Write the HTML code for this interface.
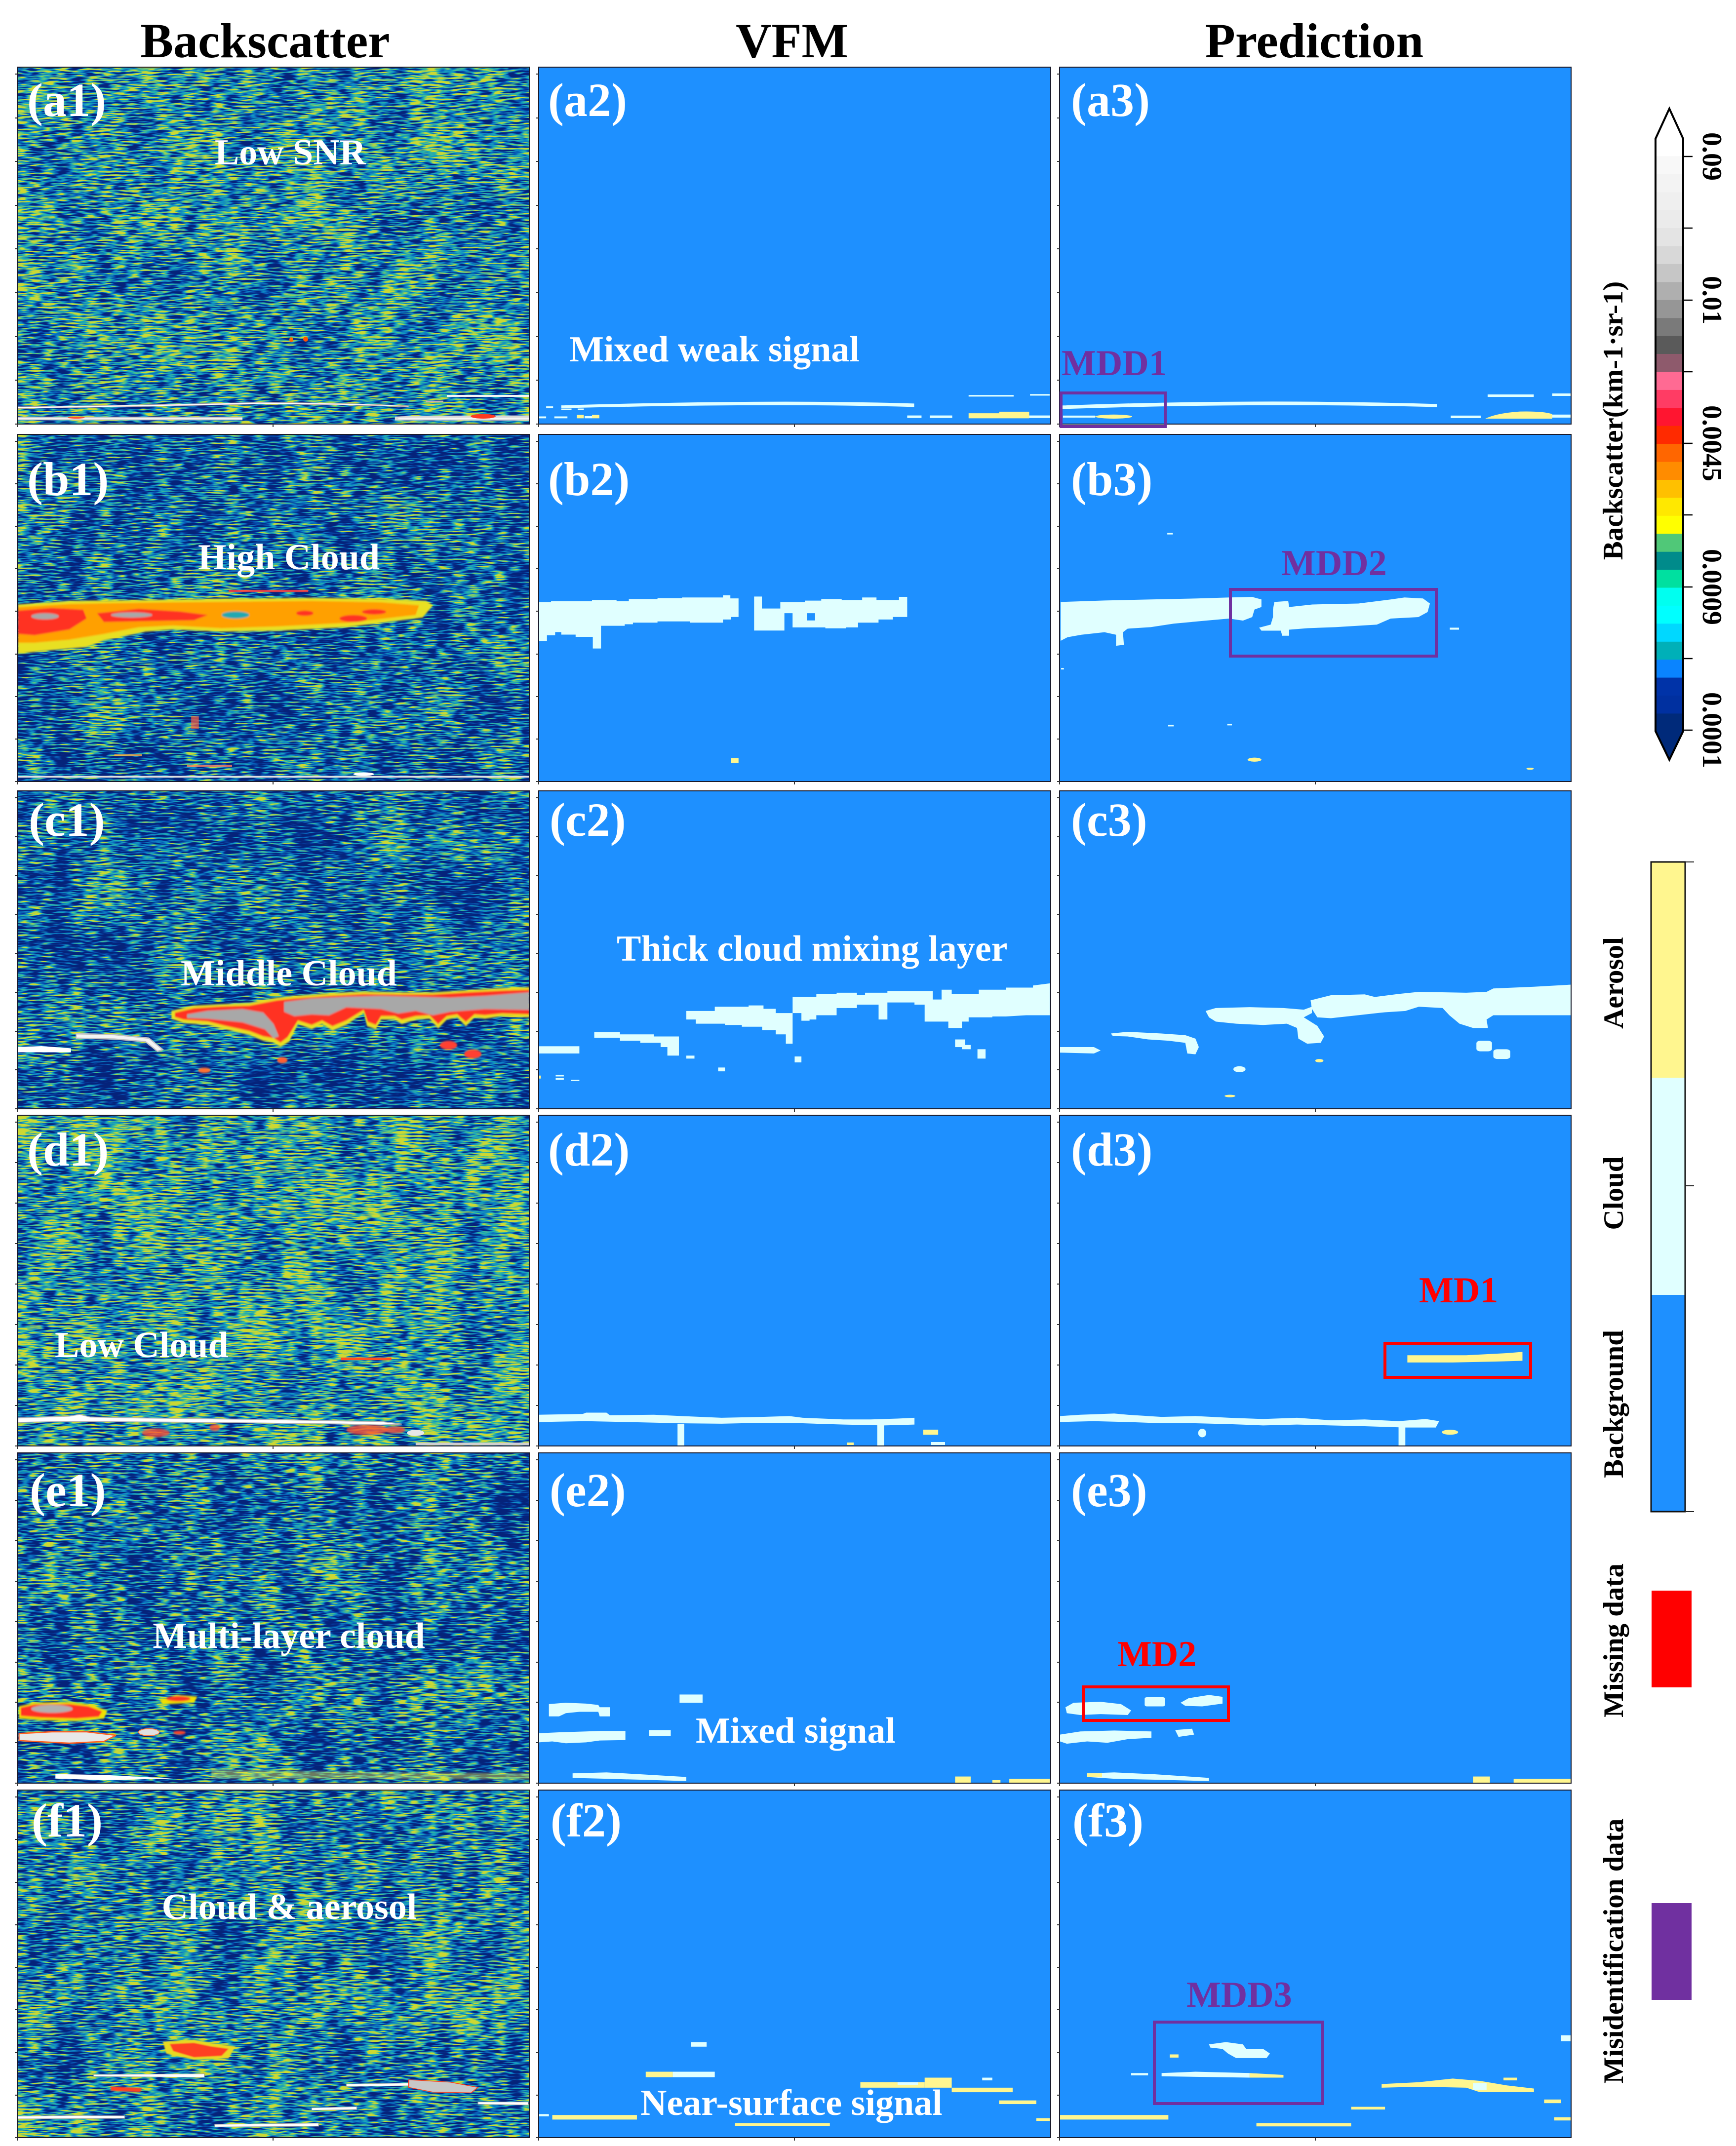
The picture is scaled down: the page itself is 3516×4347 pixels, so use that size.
<!DOCTYPE html>
<html><head><meta charset="utf-8"><style>
html,body{margin:0;padding:0;background:#fff}
svg{display:block}
.t{font-family:"Liberation Serif","Times New Roman",serif;font-weight:bold}
.c{fill:#e0ffff}
.y{fill:#fff68f}
</style></head><body>
<svg xmlns="http://www.w3.org/2000/svg" width="3516" height="4347" viewBox="0 0 3516 4347">
<defs>
<clipPath id="k11"><rect x="35" y="136" width="1037" height="723"/></clipPath>
<clipPath id="k21"><rect x="35" y="880" width="1037" height="703"/></clipPath>
<clipPath id="k31"><rect x="35" y="1602" width="1037" height="644"/></clipPath>
<clipPath id="k41"><rect x="35" y="2259" width="1037" height="670"/></clipPath>
<clipPath id="k51"><rect x="35" y="2943" width="1037" height="669"/></clipPath>
<clipPath id="k61"><rect x="35" y="3626" width="1037" height="704"/></clipPath>
<clipPath id="k12"><rect x="1091" y="136" width="1037" height="723"/></clipPath>
<clipPath id="k22"><rect x="1091" y="880" width="1037" height="703"/></clipPath>
<clipPath id="k32"><rect x="1091" y="1602" width="1037" height="644"/></clipPath>
<clipPath id="k42"><rect x="1091" y="2259" width="1037" height="670"/></clipPath>
<clipPath id="k52"><rect x="1091" y="2943" width="1037" height="669"/></clipPath>
<clipPath id="k62"><rect x="1091" y="3626" width="1037" height="704"/></clipPath>
<clipPath id="k13"><rect x="2146" y="136" width="1036" height="723"/></clipPath>
<clipPath id="k23"><rect x="2146" y="880" width="1036" height="703"/></clipPath>
<clipPath id="k33"><rect x="2146" y="1602" width="1036" height="644"/></clipPath>
<clipPath id="k43"><rect x="2146" y="2259" width="1036" height="670"/></clipPath>
<clipPath id="k53"><rect x="2146" y="2943" width="1036" height="669"/></clipPath>
<clipPath id="k63"><rect x="2146" y="3626" width="1036" height="704"/></clipPath>

<filter id="nA" filterUnits="userSpaceOnUse" x="35" y="136" width="1037" height="723" color-interpolation-filters="sRGB">
<feTurbulence type="fractalNoise" baseFrequency="0.035 0.28" numOctaves="2" seed="2" result="t1"/>
<feColorMatrix in="t1" type="matrix" values="1 0 0 0 0 1 0 0 0 0 1 0 0 0 0 0 0 0 0 1" result="g1"/>
<feTurbulence type="fractalNoise" baseFrequency="0.012 0.008" numOctaves="2" seed="7" result="t2"/>
<feColorMatrix in="t2" type="matrix" values="1 0 0 0 0 1 0 0 0 0 1 0 0 0 0 0 0 0 0 1" result="g2"/>
<feComposite in="g1" in2="g2" operator="arithmetic" k1="0" k2="1" k3="0.35" k4="-0.175" result="m"/>
<feComponentTransfer in="m" result="s"><feFuncR type="linear" slope="3" intercept="-0.98"/><feFuncG type="linear" slope="3" intercept="-0.98"/><feFuncB type="linear" slope="3" intercept="-0.98"/></feComponentTransfer>
<feComponentTransfer in="s"><feFuncR type="table" tableValues="0.02 0.02 0.03 0.06 0.12 0.35 0.8"/><feFuncG type="table" tableValues="0.14 0.20 0.36 0.55 0.68 0.78 0.85"/><feFuncB type="table" tableValues="0.48 0.58 0.72 0.78 0.70 0.50 0.2"/></feComponentTransfer>
</filter>
<filter id="nB" filterUnits="userSpaceOnUse" x="35" y="880" width="1037" height="703" color-interpolation-filters="sRGB">
<feTurbulence type="fractalNoise" baseFrequency="0.035 0.28" numOctaves="2" seed="11" result="t1"/>
<feColorMatrix in="t1" type="matrix" values="1 0 0 0 0 1 0 0 0 0 1 0 0 0 0 0 0 0 0 1" result="g1"/>
<feTurbulence type="fractalNoise" baseFrequency="0.012 0.008" numOctaves="2" seed="13" result="t2"/>
<feColorMatrix in="t2" type="matrix" values="1 0 0 0 0 1 0 0 0 0 1 0 0 0 0 0 0 0 0 1" result="g2"/>
<feComposite in="g1" in2="g2" operator="arithmetic" k1="0" k2="1" k3="0.35" k4="-0.175" result="m"/>
<feComponentTransfer in="m" result="s"><feFuncR type="linear" slope="3" intercept="-1.15"/><feFuncG type="linear" slope="3" intercept="-1.15"/><feFuncB type="linear" slope="3" intercept="-1.15"/></feComponentTransfer>
<feComponentTransfer in="s"><feFuncR type="table" tableValues="0.02 0.02 0.03 0.06 0.12 0.35 0.8"/><feFuncG type="table" tableValues="0.14 0.20 0.36 0.55 0.68 0.78 0.85"/><feFuncB type="table" tableValues="0.48 0.58 0.72 0.78 0.70 0.50 0.2"/></feComponentTransfer>
</filter>
<filter id="nC" filterUnits="userSpaceOnUse" x="35" y="1602" width="1037" height="644" color-interpolation-filters="sRGB">
<feTurbulence type="fractalNoise" baseFrequency="0.035 0.28" numOctaves="2" seed="21" result="t1"/>
<feColorMatrix in="t1" type="matrix" values="1 0 0 0 0 1 0 0 0 0 1 0 0 0 0 0 0 0 0 1" result="g1"/>
<feTurbulence type="fractalNoise" baseFrequency="0.012 0.008" numOctaves="2" seed="23" result="t2"/>
<feColorMatrix in="t2" type="matrix" values="1 0 0 0 0 1 0 0 0 0 1 0 0 0 0 0 0 0 0 1" result="g2"/>
<feComposite in="g1" in2="g2" operator="arithmetic" k1="0" k2="1" k3="0.35" k4="-0.175" result="m"/>
<feComponentTransfer in="m" result="s"><feFuncR type="linear" slope="3" intercept="-1.15"/><feFuncG type="linear" slope="3" intercept="-1.15"/><feFuncB type="linear" slope="3" intercept="-1.15"/></feComponentTransfer>
<feComponentTransfer in="s"><feFuncR type="table" tableValues="0.02 0.02 0.03 0.06 0.12 0.35 0.8"/><feFuncG type="table" tableValues="0.14 0.20 0.36 0.55 0.68 0.78 0.85"/><feFuncB type="table" tableValues="0.48 0.58 0.72 0.78 0.70 0.50 0.2"/></feComponentTransfer>
</filter>
<filter id="nD" filterUnits="userSpaceOnUse" x="35" y="2259" width="1037" height="670" color-interpolation-filters="sRGB">
<feTurbulence type="fractalNoise" baseFrequency="0.035 0.28" numOctaves="2" seed="31" result="t1"/>
<feColorMatrix in="t1" type="matrix" values="1 0 0 0 0 1 0 0 0 0 1 0 0 0 0 0 0 0 0 1" result="g1"/>
<feTurbulence type="fractalNoise" baseFrequency="0.012 0.008" numOctaves="2" seed="33" result="t2"/>
<feColorMatrix in="t2" type="matrix" values="1 0 0 0 0 1 0 0 0 0 1 0 0 0 0 0 0 0 0 1" result="g2"/>
<feComposite in="g1" in2="g2" operator="arithmetic" k1="0" k2="1" k3="0.35" k4="-0.175" result="m"/>
<feComponentTransfer in="m" result="s"><feFuncR type="linear" slope="3" intercept="-0.92"/><feFuncG type="linear" slope="3" intercept="-0.92"/><feFuncB type="linear" slope="3" intercept="-0.92"/></feComponentTransfer>
<feComponentTransfer in="s"><feFuncR type="table" tableValues="0.02 0.02 0.03 0.06 0.12 0.35 0.8"/><feFuncG type="table" tableValues="0.14 0.20 0.36 0.55 0.68 0.78 0.85"/><feFuncB type="table" tableValues="0.48 0.58 0.72 0.78 0.70 0.50 0.2"/></feComponentTransfer>
</filter>
<filter id="nE" filterUnits="userSpaceOnUse" x="35" y="2943" width="1037" height="669" color-interpolation-filters="sRGB">
<feTurbulence type="fractalNoise" baseFrequency="0.035 0.28" numOctaves="2" seed="41" result="t1"/>
<feColorMatrix in="t1" type="matrix" values="1 0 0 0 0 1 0 0 0 0 1 0 0 0 0 0 0 0 0 1" result="g1"/>
<feTurbulence type="fractalNoise" baseFrequency="0.012 0.008" numOctaves="2" seed="43" result="t2"/>
<feColorMatrix in="t2" type="matrix" values="1 0 0 0 0 1 0 0 0 0 1 0 0 0 0 0 0 0 0 1" result="g2"/>
<feComposite in="g1" in2="g2" operator="arithmetic" k1="0" k2="1" k3="0.35" k4="-0.175" result="m"/>
<feComponentTransfer in="m" result="s"><feFuncR type="linear" slope="3" intercept="-1.12"/><feFuncG type="linear" slope="3" intercept="-1.12"/><feFuncB type="linear" slope="3" intercept="-1.12"/></feComponentTransfer>
<feComponentTransfer in="s"><feFuncR type="table" tableValues="0.02 0.02 0.03 0.06 0.12 0.35 0.8"/><feFuncG type="table" tableValues="0.14 0.20 0.36 0.55 0.68 0.78 0.85"/><feFuncB type="table" tableValues="0.48 0.58 0.72 0.78 0.70 0.50 0.2"/></feComponentTransfer>
</filter>
<filter id="nF" filterUnits="userSpaceOnUse" x="35" y="3626" width="1037" height="704" color-interpolation-filters="sRGB">
<feTurbulence type="fractalNoise" baseFrequency="0.035 0.28" numOctaves="2" seed="51" result="t1"/>
<feColorMatrix in="t1" type="matrix" values="1 0 0 0 0 1 0 0 0 0 1 0 0 0 0 0 0 0 0 1" result="g1"/>
<feTurbulence type="fractalNoise" baseFrequency="0.012 0.008" numOctaves="2" seed="53" result="t2"/>
<feColorMatrix in="t2" type="matrix" values="1 0 0 0 0 1 0 0 0 0 1 0 0 0 0 0 0 0 0 1" result="g2"/>
<feComposite in="g1" in2="g2" operator="arithmetic" k1="0" k2="1" k3="0.35" k4="-0.175" result="m"/>
<feComponentTransfer in="m" result="s"><feFuncR type="linear" slope="3" intercept="-1.02"/><feFuncG type="linear" slope="3" intercept="-1.02"/><feFuncB type="linear" slope="3" intercept="-1.02"/></feComponentTransfer>
<feComponentTransfer in="s"><feFuncR type="table" tableValues="0.02 0.02 0.03 0.06 0.12 0.35 0.8"/><feFuncG type="table" tableValues="0.14 0.20 0.36 0.55 0.68 0.78 0.85"/><feFuncB type="table" tableValues="0.48 0.58 0.72 0.78 0.70 0.50 0.2"/></feComponentTransfer>
</filter>
<filter id="bl" x="-20%" y="-50%" width="140%" height="200%"><feGaussianBlur stdDeviation="2"/></filter>
<clipPath id="kcb"><polygon points="3353,281 3381,220 3409,281 3409,1481 3381,1539 3353,1481"/></clipPath>
</defs>

<!-- Column titles -->
<text class="t" x="537" y="116" font-size="100" text-anchor="middle" fill="#000">Backscatter</text>
<text class="t" x="1604" y="116" font-size="100" text-anchor="middle" fill="#000">VFM</text>
<text class="t" x="2662" y="116" font-size="100" text-anchor="middle" fill="#000">Prediction</text>

<!-- ================= BACKSCATTER COLUMN ================= -->
<g clip-path="url(#k11)">
<rect x="35" y="136" width="1037" height="723" fill="#1060b0" filter="url(#nA)"/>
<g transform="translate(0,700) scale(0.7015,0.3333)">
<path d="M50,372 Q400,362 750,345 Q1000,348 1180,366 L1180,372 Q1000,358 750,355 Q400,372 50,382 Z" fill="#fff" stroke="#b8a0a0" stroke-width="3"/>
<rect x="1290" y="300" width="238" height="12" fill="#f4f4f4"/>
<rect x="1230" y="335" width="50" height="10" fill="#c8b0b0"/>
<rect x="50" y="432" width="650" height="22" fill="#c8c8c8"/>
<rect x="50" y="440" width="650" height="8" fill="#f2f2f2"/>
<path d="M1140,432 Q1200,424 1528,425 L1528,456 L1140,455 Z" fill="#d8d8d8"/>
<rect x="1150" y="438" width="378" height="10" fill="#f6f6f6"/>
<ellipse cx="1395" cy="430" rx="36" ry="14" fill="#ff3a20"/>
<ellipse cx="220" cy="438" rx="25" ry="6" fill="#ff5030"/>
</g>
<ellipse cx="590" cy="688" rx="4" ry="5" fill="#ff7000"/>
<ellipse cx="619" cy="687" rx="5" ry="5" fill="#ff5000"/>
</g>

<g clip-path="url(#k21)">
<rect x="35" y="880" width="1037" height="703" fill="#0c4aa0" filter="url(#nB)"/>
<g transform="translate(0,860) scale(0.7015,0.8929)">
<g filter="url(#bl)">
<polygon fill="#e8e020" points="52,408 200,400 400,398 640,395 900,393 1100,395 1230,400 1250,410 1220,438 1150,445 1000,460 800,468 640,470 500,465 420,470 300,490 250,505 150,512 52,520"/>
<polygon fill="#ffa000" points="52,414 200,407 400,404 640,402 900,400 1100,403 1210,410 1200,432 1000,450 800,458 640,462 500,456 400,460 300,475 200,488 100,495 52,495"/>
<polygon fill="#ff3020" points="52,422 150,416 240,420 250,440 200,465 100,478 52,475"/>
<polygon fill="#ff3020" points="280,428 400,418 520,424 600,432 560,444 420,446 300,448"/>
<ellipse cx="1020" cy="440" rx="40" ry="8" fill="#ff3020"/>
<ellipse cx="1080" cy="425" rx="35" ry="6" fill="#ff3020"/>
<ellipse cx="880" cy="428" rx="25" ry="6" fill="#ff3020"/>
<ellipse cx="130" cy="435" rx="40" ry="7" fill="#a8a8a8"/>
<ellipse cx="380" cy="432" rx="60" ry="6" fill="#a8a8a8"/>
<ellipse cx="680" cy="432" rx="40" ry="8" fill="#20a8b0"/>
</g>
<rect x="660" y="375" width="230" height="5" fill="#ff4040" opacity="0.85"/>
<rect x="52" y="797" width="1478" height="4" fill="#e0e0e0"/>
<ellipse cx="1050" cy="793" rx="30" ry="4" fill="#fff"/>
<rect x="552" y="662" width="22" height="28" fill="#ff6040" opacity="0.7"/>
<rect x="540" y="772" width="130" height="5" fill="#ff8060" opacity="0.8"/>
<rect x="330" y="748" width="80" height="4" fill="#ffb040" opacity="0.8"/>
</g>
</g>

<g clip-path="url(#k31)">
<rect x="35" y="1602" width="1037" height="644" fill="#0c4aa0" filter="url(#nC)"/>
<g transform="translate(0,860) scale(0.7015,0.8929)">
<g filter="url(#bl)">
<polygon fill="#e8e020" points="495,1330 560,1318 640,1315 720,1312 800,1300 850,1296 950,1290 1050,1286 1150,1288 1250,1288 1350,1283 1450,1278 1528,1276 1528,1345 1450,1342 1400,1348 1370,1345 1345,1365 1320,1345 1290,1350 1265,1370 1240,1348 1200,1350 1160,1360 1140,1350 1100,1350 1085,1372 1060,1365 1050,1335 1000,1362 960,1375 930,1360 900,1372 860,1360 835,1400 810,1412 790,1402 760,1398 720,1385 650,1372 600,1362 530,1358 495,1348"/>
<polygon fill="#ff3020" points="505,1334 560,1324 640,1320 720,1318 800,1306 850,1302 950,1296 1050,1292 1150,1293 1250,1293 1350,1288 1450,1284 1528,1282 1528,1338 1450,1336 1400,1340 1370,1338 1345,1355 1320,1338 1290,1342 1265,1360 1240,1340 1200,1342 1160,1350 1140,1342 1100,1342 1085,1362 1062,1355 1050,1328 1000,1352 960,1365 930,1352 900,1362 860,1352 830,1390 810,1402 790,1392 760,1388 720,1376 650,1364 600,1354 530,1350 505,1344"/>
<polygon fill="#a8a8a8" points="540,1338 600,1330 700,1326 760,1334 790,1360 805,1388 790,1392 765,1372 700,1356 600,1348 540,1346"/>
<polygon fill="#a8a8a8" points="820,1310 900,1302 1000,1298 1100,1296 1200,1298 1300,1300 1400,1296 1528,1288 1528,1328 1400,1326 1300,1332 1250,1340 1200,1330 1150,1336 1100,1326 1000,1322 950,1340 900,1338 850,1342 820,1332"/>
<ellipse cx="1295" cy="1408" rx="25" ry="10" fill="#ff4030"/>
<ellipse cx="1365" cy="1428" rx="25" ry="10" fill="#ff4030"/>
<ellipse cx="815" cy="1442" rx="15" ry="7" fill="#ff6030"/>
<ellipse cx="590" cy="1465" rx="18" ry="6" fill="#ff7030"/>
</g>
<polygon fill="#fff" points="52,1412 120,1410 205,1415 205,1424 120,1424 52,1424"/>
<polygon fill="#f4f4f4" stroke="#c0c0c0" stroke-width="3" points="220,1382 330,1384 430,1392 470,1418 455,1422 420,1400 330,1394 220,1392"/>
</g>
</g>

<g clip-path="url(#k41)">
<rect x="35" y="2259" width="1037" height="670" fill="#1868a8" filter="url(#nD)"/>
<g transform="translate(0,2240) scale(0.7015,0.8929)">
<g filter="url(#bl)">
<ellipse cx="450" cy="742" rx="40" ry="10" fill="#ff5030" opacity="0.8"/>
<ellipse cx="620" cy="730" rx="15" ry="8" fill="#ff5030" opacity="0.8"/>
<ellipse cx="1060" cy="735" rx="60" ry="12" fill="#ff5030" opacity="0.8"/>
<ellipse cx="1140" cy="735" rx="30" ry="8" fill="#ff5030" opacity="0.8"/>
</g>
<ellipse cx="1200" cy="742" rx="25" ry="7" fill="#e8e8e8"/>
<polygon fill="#fff" stroke="#b0b0b0" stroke-width="2" points="52,708 200,704 230,700 260,706 400,708 600,710 800,712 1000,715 1100,716 1160,722 1100,724 1000,722 800,720 600,718 400,717 200,716 52,718"/>
<rect x="985" y="571" width="145" height="6" fill="#ff5020"/>
<rect x="1200" y="764" width="330" height="6" fill="#d0d0d0"/>
</g>
</g>

<g clip-path="url(#k51)">
<rect x="35" y="2943" width="1037" height="669" fill="#0c4aa0" filter="url(#nE)"/>
<g transform="translate(0,2240) scale(0.7015,0.8929)">
<g filter="url(#bl)">
<polygon fill="#f0e000" points="55,1362 100,1354 200,1352 260,1358 310,1372 300,1390 220,1396 120,1394 55,1390"/>
<polygon fill="#ff3020" points="60,1365 100,1358 200,1357 255,1362 295,1374 285,1386 220,1390 120,1388 60,1384"/>
<ellipse cx="150" cy="1368" rx="60" ry="9" fill="#b0b0b0"/>
<polygon fill="#f0e000" points="460,1348 510,1336 570,1340 560,1354 470,1358"/>
<ellipse cx="515" cy="1345" rx="35" ry="6" fill="#ff3020"/>
<ellipse cx="518" cy="1422" rx="18" ry="4" fill="#ff4020"/>
<polygon fill="#e8e840" opacity="0.45" points="610,1506 1100,1512 1530,1514 1530,1528 610,1526"/>
</g>
<polygon fill="#e8e8e8" stroke="#ff6020" stroke-width="3" points="55,1424 150,1420 250,1420 335,1428 300,1442 200,1446 100,1442 55,1440"/>
<ellipse cx="430" cy="1421" rx="30" ry="8" fill="#e0e0e0" stroke="#ff8040" stroke-width="2"/>
<polygon fill="#fff" points="160,1516 300,1518 500,1526 300,1530 160,1526"/>
</g>
</g>

<g clip-path="url(#k61)">
<rect x="35" y="3626" width="1037" height="704" fill="#1060b0" filter="url(#nF)"/>
<g transform="translate(0,3590) scale(0.7015,0.4828)">
<g filter="url(#bl)">
<polygon fill="#e8d820" points="470,1130 560,1122 620,1138 680,1150 660,1200 560,1206 480,1180"/>
<polygon fill="#ff4020" points="490,1140 560,1135 610,1150 660,1160 640,1190 560,1196 500,1170"/>
<polygon fill="#ff4020" points="320,1318 410,1325 405,1342 320,1336"/>
</g>
<polygon fill="#fff" stroke="#a0a0a0" stroke-width="2" points="270,1268 590,1265 590,1280 270,1276"/>
<polygon fill="#fff" stroke="#a0a0a0" stroke-width="2" points="1000,1308 1200,1303 1200,1315 1000,1318"/>
<polygon fill="#c8c8c8" stroke="#ff4020" stroke-width="3" points="1180,1290 1300,1300 1380,1322 1360,1345 1250,1342 1180,1322"/>
<polygon fill="#fff" stroke="#a0a0a0" stroke-width="2" points="900,1408 1030,1403 1030,1415 900,1418"/>
<polygon fill="#fff" stroke="#a0a0a0" stroke-width="2" points="50,1443 200,1440 360,1441 360,1452 50,1454"/>
<polygon fill="#fff" stroke="#a0a0a0" stroke-width="2" points="620,1477 920,1472 920,1485 620,1488"/>
<polygon fill="#fff" stroke="#a0a0a0" stroke-width="2" points="1380,1383 1525,1383 1525,1396 1380,1393"/>
</g>
</g>

<!-- ================= VFM / PREDICTION backgrounds ================= -->
<rect x="1091" y="136" width="1037" height="723" fill="#1e90ff"/>
<rect x="1091" y="880" width="1037" height="703" fill="#1e90ff"/>
<rect x="1091" y="1602" width="1037" height="644" fill="#1e90ff"/>
<rect x="1091" y="2259" width="1037" height="670" fill="#1e90ff"/>
<rect x="1091" y="2943" width="1037" height="669" fill="#1e90ff"/>
<rect x="1091" y="3626" width="1037" height="704" fill="#1e90ff"/>
<rect x="2146" y="136" width="1036" height="723" fill="#1e90ff"/>
<rect x="2146" y="880" width="1036" height="703" fill="#1e90ff"/>
<rect x="2146" y="1602" width="1036" height="644" fill="#1e90ff"/>
<rect x="2146" y="2259" width="1036" height="670" fill="#1e90ff"/>
<rect x="2146" y="2943" width="1036" height="669" fill="#1e90ff"/>
<rect x="2146" y="3626" width="1036" height="704" fill="#1e90ff"/>

<!-- a2 -->
<g clip-path="url(#k12)"><g transform="translate(1000,700) scale(0.8291,0.6378)">
<path class="c" d="M165,190 Q680,170 1027,184 L1027,195 Q680,182 165,199 Z"/>
<rect class="c" x="128" y="193" width="17" height="6"/>
<rect class="c" x="165" y="200" width="25" height="5"/>
<rect class="c" x="205" y="200" width="15" height="5"/>
<rect class="c" x="108" y="225" width="20" height="6"/>
<rect class="c" x="148" y="225" width="32" height="6"/>
<rect class="y" x="203" y="220" width="17" height="11"/>
<rect class="c" x="222" y="224" width="18" height="7"/>
<rect class="y" x="240" y="220" width="18" height="11"/>
<rect class="c" x="1010" y="222" width="35" height="8"/>
<rect class="c" x="1065" y="222" width="55" height="8"/>
<rect class="y" x="1160" y="215" width="75" height="16"/>
<rect class="y" x="1235" y="210" width="73" height="21"/>
<rect class="c" x="1308" y="222" width="52" height="8"/>
<rect class="c" x="1160" y="157" width="110" height="5"/>
<rect class="c" x="1310" y="154" width="48" height="5"/>
</g></g>

<!-- b2 -->
<g clip-path="url(#k22)"><g transform="translate(1000,700) scale(0.8291,0.6378)">
<polygon class="c" points="110,815 140,815 140,812 240,812 240,808 300,808 300,812 330,812 330,805 400,805 400,802 460,802 460,800 560,800 560,793 578,793 578,803 598,803 598,862 580,862 580,870 560,870 560,880 480,880 480,876 400,876 400,880 340,880 340,885 320,885 320,890 262,890 262,962 242,962 242,925 200,925 200,918 165,918 165,910 150,910 150,920 130,920 130,938 110,938"/>
<polygon class="c" points="636,797 655,797 655,835 700,835 700,815 760,815 760,810 800,810 800,805 850,805 850,808 900,808 900,800 935,800 935,808 990,808 990,798 1010,798 1010,862 975,862 975,870 940,870 940,880 890,880 890,895 860,895 860,898 810,898 810,895 730,895 730,850 710,850 710,905 636,905"/>
<rect x="765" y="850" width="20" height="23" fill="#1e90ff"/>
<rect class="y" x="580" y="1310" width="18" height="16"/>
</g></g>

<!-- a3 -->
<g clip-path="url(#k13)"><g transform="translate(2050,0) scale(0.9349,1.0204)">
<path class="c" d="M108,805 Q520,791 920,802 L920,808 Q520,799 108,812 Z"/>
<rect class="c" x="110" y="825" width="70" height="4"/>
<ellipse class="y" cx="220" cy="827" rx="40" ry="4"/>
<rect class="c" x="1030" y="783" width="100" height="5"/>
<rect class="c" x="1170" y="781" width="41" height="5"/>
<rect class="c" x="950" y="825" width="65" height="5"/>
<path class="y" d="M1025,831 Q1050,820 1100,817 Q1150,816 1170,822 L1170,831 Z"/>
<rect class="c" x="1170" y="823" width="41" height="6"/>
</g></g>

<!-- b3 -->
<g clip-path="url(#k23)"><g transform="translate(2050,0) scale(0.9349,1.0204)">
<polygon class="c" points="105,1195 200,1192 300,1190 400,1188 470,1186 520,1185 540,1190 540,1205 525,1210 520,1225 500,1232 470,1228 420,1232 350,1238 300,1245 250,1248 240,1255 242,1280 225,1282 225,1260 200,1255 150,1260 120,1265 105,1272"/>
<polygon class="c" points="565,1210 568,1195 598,1193 600,1205 650,1200 750,1198 820,1190 850,1186 890,1188 905,1198 900,1215 880,1225 820,1228 790,1240 700,1245 640,1247 600,1250 600,1262 585,1262 582,1252 540,1252 535,1246 560,1240 565,1225"/>
<rect class="c" x="948" y="1246" width="20" height="4"/>
<ellipse class="y" cx="525" cy="1508" rx="15" ry="4"/>
<ellipse class="y" cx="1122" cy="1526" rx="8" ry="2"/>
<rect class="c" x="336" y="1058" width="12" height="3"/>
<rect class="c" x="466" y="1437" width="10" height="3"/>
<rect class="c" x="338" y="1439" width="12" height="3"/>
<rect class="c" x="106" y="1326" width="6" height="3"/>
</g></g>

<!-- c2 -->
<g clip-path="url(#k32)"><g transform="translate(1050,1570) scale(1.3712,0.8610)">
<polygon class="c" points="248,555 290,555 290,545 340,545 340,542 362,542 362,550 380,550 380,560 405,560 405,632 395,632 395,610 380,610 380,600 360,600 360,592 330,592 330,588 305,588 305,585 262,585 262,575 248,575"/>
<polygon class="c" points="405,522 440,522 440,515 470,515 470,512 500,512 500,518 512,518 512,512 545,512 545,508 612,508 612,528 625,528 625,505 640,505 640,515 680,515 680,505 720,505 720,500 760,500 760,495 785,490 785,565 750,565 720,568 700,568 700,570 665,570 665,580 655,580 655,595 635,595 635,580 600,580 600,540 585,540 585,535 545,535 545,575 532,575 532,540 500,540 500,548 470,548 470,565 440,565 440,575 430,575 430,578 418,578 418,560 405,560"/>
<polygon class="c" points="112,605 150,605 150,610 200,610 200,615 237,615 237,660 220,660 220,640 210,640 210,630 180,630 180,625 150,625 150,618 112,618"/>
<rect class="c" x="30" y="638" width="60" height="17"/>
<rect class="c" x="248" y="660" width="12" height="7"/>
<rect class="c" x="295" y="688" width="10" height="9"/>
<rect class="c" x="408" y="662" width="10" height="14"/>
<rect class="c" x="645" y="622" width="15" height="18"/>
<rect class="c" x="655" y="635" width="13" height="10"/>
<rect class="c" x="678" y="645" width="12" height="22"/>
<rect class="c" x="55" y="705" width="12" height="4"/>
<rect class="c" x="55" y="713" width="12" height="4"/>
<rect class="c" x="78" y="717" width="12" height="3"/>
<rect class="y" x="28" y="707" width="5" height="7"/>
</g></g>

<!-- c3 -->
<g clip-path="url(#k33)"><g transform="translate(1050,1570) scale(1.3712,0.8610)">
<polygon class="c" points="1015,555 1030,548 1080,546 1130,548 1160,552 1172,545 1172,560 1160,570 1180,590 1190,615 1185,630 1165,632 1152,620 1150,595 1135,585 1100,588 1060,585 1030,580 1020,570"/>
<polygon class="c" points="1170,530 1200,518 1250,516 1265,522 1300,515 1330,510 1400,512 1430,510 1440,502 1500,498 1555,493 1555,565 1490,565 1440,565 1430,575 1432,595 1410,595 1390,585 1375,565 1365,548 1330,545 1320,550 1310,555 1280,558 1240,565 1200,572 1180,570 1172,550"/>
<polygon class="c" points="875,608 900,604 950,608 985,612 1000,620 1005,640 1000,657 988,655 985,630 960,625 930,622 900,615 878,614"/>
<polygon class="c" points="800,640 850,640 860,648 850,655 800,653"/>
<ellipse class="c" cx="1065" cy="692" rx="9" ry="7"/>
<rect class="c" x="1415" y="625" width="23" height="25" rx="6"/>
<rect class="c" x="1440" y="645" width="25" height="23" rx="6"/>
<ellipse class="y" cx="1183" cy="672" rx="6" ry="4"/>
<ellipse class="y" cx="1051" cy="755" rx="8" ry="3"/>
</g></g>

<!-- d2 -->
<g clip-path="url(#k42)"><g transform="translate(1050,1570) scale(1.3712,0.8610)">
<polygon class="c" points="30,1505 95,1503 100,1500 130,1500 135,1506 200,1505 240,1508 300,1512 360,1510 400,1508 420,1512 480,1516 520,1516 560,1514 585,1512 585,1528 540,1530 480,1528 420,1525 360,1524 300,1526 240,1525 160,1522 100,1520 30,1522"/>
<rect class="c" x="235" y="1526" width="10" height="52"/>
<rect class="c" x="530" y="1526" width="10" height="52"/>
<rect class="y" x="598" y="1540" width="22" height="12"/>
</g>
<rect class="y" x="1715" y="2922" width="14" height="5"/>
<rect class="c" x="1886" y="2921" width="28" height="6"/>
</g>

<!-- d3 -->
<g clip-path="url(#k43)"><g transform="translate(1050,1570) scale(1.3712,0.8610)">
<polygon class="c" points="800,1508 830,1505 880,1502 900,1505 950,1510 1000,1508 1050,1512 1100,1515 1150,1512 1200,1518 1250,1516 1300,1520 1340,1515 1360,1520 1355,1535 1310,1535 1250,1532 1200,1530 1150,1528 1100,1530 1050,1527 1000,1525 950,1525 900,1522 850,1520 800,1522"/>
<ellipse class="c" cx="1010" cy="1548" rx="6" ry="10"/>
<rect class="c" x="1300" y="1530" width="10" height="50"/>
<ellipse class="y" cx="1376" cy="1546" rx="12" ry="6"/>
<polygon class="y" points="1313,1365 1400,1365 1460,1360 1483,1357 1483,1378 1440,1380 1380,1382 1313,1382"/>
</g></g>

<!-- e2 -->
<g clip-path="url(#k52)"><g transform="translate(1050,2900) scale(1.3712,0.9228)">
<polygon class="c" points="45,598 70,595 100,597 118,600 120,605 135,605 135,625 120,625 118,615 90,615 70,618 60,625 45,625"/>
<rect class="c" x="238" y="577" width="34" height="18"/>
<polygon class="c" points="30,662 60,660 100,658 120,657 158,657 158,677 120,678 100,682 70,684 50,680 30,682"/>
<rect class="c" x="193" y="655" width="32" height="13"/>
<polygon class="c" points="80,750 130,748 180,752 248,758 248,767 180,764 130,762 80,760"/>
<rect class="y" x="645" y="757" width="23" height="15"/>
<rect class="y" x="725" y="762" width="60" height="10"/>
<rect class="y" x="700" y="765" width="12" height="7"/>
</g></g>

<!-- e3 -->
<g clip-path="url(#k53)"><g transform="translate(1050,2900) scale(1.3712,0.9228)">
<polygon class="c" points="808,605 820,595 860,593 890,598 905,612 900,622 860,620 830,622 810,618"/>
<rect class="c" x="925" y="583" width="30" height="20" rx="3"/>
<polygon class="c" points="978,595 990,585 1020,578 1040,582 1040,597 1010,603 985,602"/>
<polygon class="c" points="800,665 830,658 880,656 935,658 935,672 900,675 870,683 840,680 810,685 800,680"/>
<polygon class="c" points="970,655 995,652 998,665 975,670"/>
<polygon class="c" points="840,750 880,748 940,752 1020,760 1020,767 940,764 880,762 840,758"/>
<rect class="y" x="840" y="750" width="22" height="8"/>
<rect class="y" x="1410" y="757" width="25" height="15"/>
<rect class="y" x="1470" y="762" width="85" height="10"/>
</g></g>

<!-- f2 -->
<g clip-path="url(#k62)"><g transform="translate(1050,2900) scale(1.3712,0.9228)">
<rect class="c" x="255" y="1340" width="23" height="10"/>
<rect class="y" x="188" y="1405" width="40" height="12"/>
<rect class="c" x="228" y="1405" width="62" height="12"/>
<rect class="y" x="505" y="1428" width="95" height="12"/>
<rect class="c" x="560" y="1428" width="30" height="6"/>
<rect class="y" x="600" y="1418" width="40" height="22"/>
<rect class="y" x="640" y="1440" width="90" height="10"/>
<rect class="c" x="685" y="1418" width="15" height="6"/>
<rect class="y" x="710" y="1468" width="55" height="8"/>
<rect class="y" x="50" y="1500" width="125" height="10"/>
<rect class="y" x="320" y="1518" width="140" height="6"/>
<rect class="y" x="765" y="1507" width="20" height="6"/>
<rect class="c" x="30" y="1498" width="15" height="5"/>
</g></g>

<!-- f3 -->
<g clip-path="url(#k63)"><g transform="translate(1050,2900) scale(1.3712,0.9228)">
<polygon class="c" points="1020,1345 1045,1340 1070,1345 1075,1355 1100,1355 1110,1365 1105,1375 1060,1375 1048,1365 1040,1355 1022,1352"/>
<rect class="y" x="962" y="1367" width="13" height="7"/>
<polygon class="c" points="950,1408 1000,1405 1080,1408 1080,1418 950,1415"/>
<polygon class="y" points="1080,1408 1130,1412 1130,1418 1080,1418"/>
<rect class="c" x="905" y="1408" width="25" height="5"/>
<polygon class="y" points="1275,1432 1330,1428 1380,1420 1420,1425 1460,1435 1500,1442 1500,1450 1420,1450 1400,1440 1330,1438 1275,1440"/>
<rect class="c" x="1410" y="1430" width="20" height="15"/>
<rect class="y" x="1455" y="1418" width="20" height="6"/>
<rect class="y" x="1515" y="1466" width="25" height="8"/>
<rect class="c" x="1540" y="1325" width="15" height="13"/>
<rect class="y" x="800" y="1500" width="160" height="10"/>
<rect class="y" x="1090" y="1518" width="140" height="7"/>
<rect class="y" x="1230" y="1482" width="50" height="6"/>
<rect class="y" x="1530" y="1505" width="25" height="7"/>
</g></g>

<!-- Panel borders -->
<g fill="none" stroke="#1a1a2a" stroke-width="2">
<rect x="35" y="136" width="1037" height="723"/><rect x="1091" y="136" width="1037" height="723"/><rect x="2146" y="136" width="1036" height="723"/>
<rect x="35" y="880" width="1037" height="703"/><rect x="1091" y="880" width="1037" height="703"/><rect x="2146" y="880" width="1036" height="703"/>
<rect x="35" y="1602" width="1037" height="644"/><rect x="1091" y="1602" width="1037" height="644"/><rect x="2146" y="1602" width="1036" height="644"/>
<rect x="35" y="2259" width="1037" height="670"/><rect x="1091" y="2259" width="1037" height="670"/><rect x="2146" y="2259" width="1036" height="670"/>
<rect x="35" y="2943" width="1037" height="669"/><rect x="1091" y="2943" width="1037" height="669"/><rect x="2146" y="2943" width="1036" height="669"/>
<rect x="35" y="3626" width="1037" height="704"/><rect x="1091" y="3626" width="1037" height="704"/><rect x="2146" y="3626" width="1036" height="704"/>
</g>

<!-- Ticks -->
<g stroke="#333" stroke-width="2" fill="none">
<path d="M30,150h5M30,239h5M30,327h5M30,416h5M30,504h5M30,593h5M30,682h5M30,770h5M30,859h5M1086,150h5M1086,239h5M1086,327h5M1086,416h5M1086,504h5M1086,593h5M1086,682h5M1086,770h5M1086,859h5M2141,150h5M2141,239h5M2141,327h5M2141,416h5M2141,504h5M2141,593h5M2141,682h5M2141,770h5M2141,859h5"/>
<path d="M30,894h5M30,980h5M30,1066h5M30,1152h5M30,1238h5M30,1325h5M30,1411h5M30,1497h5M30,1583h5M1086,894h5M1086,980h5M1086,1066h5M1086,1152h5M1086,1238h5M1086,1325h5M1086,1411h5M1086,1497h5M1086,1583h5M2141,894h5M2141,980h5M2141,1066h5M2141,1152h5M2141,1238h5M2141,1325h5M2141,1411h5M2141,1497h5M2141,1583h5"/>
<path d="M30,1616h5M30,1695h5M30,1773h5M30,1852h5M30,1931h5M30,2010h5M30,2089h5M30,2167h5M30,2246h5M1086,1616h5M1086,1695h5M1086,1773h5M1086,1852h5M1086,1931h5M1086,2010h5M1086,2089h5M1086,2167h5M1086,2246h5M2141,1616h5M2141,1695h5M2141,1773h5M2141,1852h5M2141,1931h5M2141,2010h5M2141,2089h5M2141,2167h5M2141,2246h5"/>
<path d="M30,2273h5M30,2355h5M30,2437h5M30,2519h5M30,2601h5M30,2683h5M30,2765h5M30,2847h5M30,2929h5M1086,2273h5M1086,2355h5M1086,2437h5M1086,2519h5M1086,2601h5M1086,2683h5M1086,2765h5M1086,2847h5M1086,2929h5M2141,2273h5M2141,2355h5M2141,2437h5M2141,2519h5M2141,2601h5M2141,2683h5M2141,2765h5M2141,2847h5M2141,2929h5"/>
<path d="M30,2957h5M30,3039h5M30,3121h5M30,3203h5M30,3285h5M30,3367h5M30,3448h5M30,3530h5M30,3612h5M1086,2957h5M1086,3039h5M1086,3121h5M1086,3203h5M1086,3285h5M1086,3367h5M1086,3448h5M1086,3530h5M1086,3612h5M2141,2957h5M2141,3039h5M2141,3121h5M2141,3203h5M2141,3285h5M2141,3367h5M2141,3448h5M2141,3530h5M2141,3612h5"/>
<path d="M30,3640h5M30,3726h5M30,3813h5M30,3899h5M30,3985h5M30,4071h5M30,4158h5M30,4244h5M30,4330h5M1086,3640h5M1086,3726h5M1086,3813h5M1086,3899h5M1086,3985h5M1086,4071h5M1086,4158h5M1086,4244h5M1086,4330h5M2141,3640h5M2141,3726h5M2141,3813h5M2141,3899h5M2141,3985h5M2141,4071h5M2141,4158h5M2141,4244h5M2141,4330h5"/>
<path d="M35,859v6M553,859v6M1091,859v6M1609,859v6M2146,859v6M2664,859v6M35,1583v6M553,1583v6M1091,1583v6M1609,1583v6M2146,1583v6M2664,1583v6M35,2246v6M553,2246v6M1091,2246v6M1609,2246v6M2146,2246v6M2664,2246v6M35,2929v6M553,2929v6M1091,2929v6M1609,2929v6M2146,2929v6M2664,2929v6M35,3612v6M553,3612v6M1091,3612v6M1609,3612v6M2146,3612v6M2664,3612v6M35,4330v6M553,4330v6M1091,4330v6M1609,4330v6M2146,4330v6M2664,4330v6"/>
</g>

<!-- Panel labels -->
<g class="t" font-size="96" fill="#fff">
<text x="55" y="235">(a1)</text><text x="1110" y="235">(a2)</text><text x="2169" y="235">(a3)</text>
<text x="55" y="1003">(b1)</text><text x="1110" y="1003">(b2)</text><text x="2169" y="1003">(b3)</text>
<text x="58" y="1693">(c1)</text><text x="1113" y="1693">(c2)</text><text x="2169" y="1693">(c3)</text>
<text x="55" y="2361">(d1)</text><text x="1110" y="2361">(d2)</text><text x="2169" y="2361">(d3)</text>
<text x="60" y="3051">(e1)</text><text x="1113" y="3051">(e2)</text><text x="2169" y="3051">(e3)</text>
<text x="64" y="3720">(f1)</text><text x="1115" y="3720">(f2)</text><text x="2172" y="3720">(f3)</text>
</g>

<!-- Annotations -->
<g class="t" font-size="74" fill="#fff">
<text x="588" y="333" text-anchor="middle">Low SNR</text>
<text x="585" y="1153" text-anchor="middle">High Cloud</text>
<text x="585" y="1996" text-anchor="middle">Middle Cloud</text>
<text x="111" y="2749">Low Cloud</text>
<text x="585" y="3338" text-anchor="middle">Multi-layer cloud</text>
<text x="586" y="3887" text-anchor="middle">Cloud &amp; aerosol</text>
<text x="1153" y="732">Mixed weak signal</text>
<text x="1249" y="1946">Thick cloud mixing layer</text>
<text x="1409" y="3530">Mixed signal</text>
<text x="1297" y="4284">Near-surface signal</text>
</g>
<g class="t" font-size="74">
<text x="2150" y="760" fill="#7030a0">MDD1</text>
<text x="2595" y="1165" fill="#7030a0">MDD2</text>
<text x="2874" y="2638" fill="#ff0000">MD1</text>
<text x="2263" y="3375" fill="#ff0000">MD2</text>
<text x="2403" y="4065" fill="#7030a0">MDD3</text>
</g>
<g fill="none" stroke-width="6">
<rect x="2149" y="796" width="211" height="68" stroke="#7030a0"/>
<rect x="2492" y="1194" width="417" height="135" stroke="#7030a0"/>
<rect x="2805" y="2721" width="295" height="69" stroke="#ff0000"/>
<rect x="2194" y="3417" width="294" height="68" stroke="#ff0000"/>
<rect x="2338" y="4096" width="341" height="165" stroke="#7030a0"/>
</g>

<!-- ================= Backscatter colorbar ================= -->
<g clip-path="url(#kcb)">
<rect x="3350" y="215" width="62" height="70" fill="#ffffff"/>
<rect x="3350" y="1478" width="62" height="66" fill="#002a7a"/>
<rect x="3350" y="280" width="62" height="37" fill="#ffffff"/>
<rect x="3350" y="316.4" width="62" height="37" fill="#f8f8f8"/>
<rect x="3350" y="352.8" width="62" height="37" fill="#f3f3f3"/>
<rect x="3350" y="389.3" width="62" height="37" fill="#efefef"/>
<rect x="3350" y="425.7" width="62" height="37" fill="#ebebeb"/>
<rect x="3350" y="462.1" width="62" height="37" fill="#e4e4e4"/>
<rect x="3350" y="498.5" width="62" height="37" fill="#d8d8d8"/>
<rect x="3350" y="534.9" width="62" height="37" fill="#c6c6c6"/>
<rect x="3350" y="571.4" width="62" height="37" fill="#afafaf"/>
<rect x="3350" y="607.8" width="62" height="37" fill="#969696"/>
<rect x="3350" y="644.2" width="62" height="37" fill="#7a7a7a"/>
<rect x="3350" y="680.6" width="62" height="37" fill="#5a5a5a"/>
<rect x="3350" y="717.0" width="62" height="37" fill="#8e5a6c"/>
<rect x="3350" y="753.5" width="62" height="37" fill="#ff6a93"/>
<rect x="3350" y="789.9" width="62" height="37" fill="#ff3c64"/>
<rect x="3350" y="826.3" width="62" height="37" fill="#ff1530"/>
<rect x="3350" y="862.7" width="62" height="37" fill="#ff2a00"/>
<rect x="3350" y="899.1" width="62" height="37" fill="#ff6600"/>
<rect x="3350" y="935.6" width="62" height="37" fill="#ff8c00"/>
<rect x="3350" y="972.0" width="62" height="37" fill="#ffc000"/>
<rect x="3350" y="1008.4" width="62" height="37" fill="#ffe800"/>
<rect x="3350" y="1044.8" width="62" height="37" fill="#ffff00"/>
<rect x="3350" y="1081.2" width="62" height="37" fill="#50c878"/>
<rect x="3350" y="1117.7" width="62" height="37" fill="#008b8b"/>
<rect x="3350" y="1154.1" width="62" height="37" fill="#00e0a0"/>
<rect x="3350" y="1190.5" width="62" height="37" fill="#00fff0"/>
<rect x="3350" y="1226.9" width="62" height="37" fill="#00ffff"/>
<rect x="3350" y="1263.3" width="62" height="37" fill="#00d8ff"/>
<rect x="3350" y="1299.8" width="62" height="37" fill="#00b0b8"/>
<rect x="3350" y="1336.2" width="62" height="37" fill="#0a84ff"/>
<rect x="3350" y="1372.6" width="62" height="37" fill="#0033a8"/>
<rect x="3350" y="1409.0" width="62" height="37" fill="#0030a0"/>
<rect x="3350" y="1445.4" width="62" height="37" fill="#002a7a"/>
</g>
<polygon points="3353,281 3381,220 3409,281 3409,1481 3381,1539 3353,1481" fill="none" stroke="#000" stroke-width="4" stroke-linejoin="miter"/>
<path d="M3409,317h19M3409,462h19M3409,608h19M3409,753h19M3409,898h19M3409,1043h19M3409,1189h19M3409,1334h19M3409,1479h19" stroke="#000" stroke-width="2.5"/>
<g class="t" font-size="56" fill="#000" text-anchor="middle">
<text transform="translate(3449,317) rotate(90)">0.09</text>
<text transform="translate(3449,608) rotate(90)">0.01</text>
<text transform="translate(3449,898) rotate(90)">0.0045</text>
<text transform="translate(3449,1189) rotate(90)">0.0009</text>
<text transform="translate(3449,1479) rotate(90)">0.0001</text>
</g>
<text class="t" font-size="57" fill="#000" text-anchor="middle" transform="translate(3286,852) rotate(-90)">Backscatter(km-1·sr-1)</text>

<!-- ================= Class colorbar ================= -->
<rect x="3344" y="1746" width="69" height="437" fill="#fff68f"/>
<rect x="3344" y="2183" width="69" height="440" fill="#e0ffff"/>
<rect x="3344" y="2623" width="69" height="439" fill="#1e90ff"/>
<rect x="3344" y="1746" width="69" height="1316" fill="none" stroke="#111" stroke-width="3"/>
<path d="M3413,1746h18M3413,2402h18M3413,3062h18" stroke="#222" stroke-width="2"/>
<rect x="3345" y="3222" width="81" height="196" fill="#ff0000"/>
<rect x="3345" y="3855" width="81" height="196" fill="#7030a0"/>
<g class="t" font-size="57" fill="#000" text-anchor="middle">
<text transform="translate(3287,1991) rotate(-90)">Aerosol</text>
<text transform="translate(3287,2417) rotate(-90)">Cloud</text>
<text transform="translate(3287,2844) rotate(-90)">Background</text>
<text transform="translate(3287,3323) rotate(-90)">Missing data</text>
<text transform="translate(3287,3952) rotate(-90)">Misidentification data</text>
</g>
</svg>
</body></html>
